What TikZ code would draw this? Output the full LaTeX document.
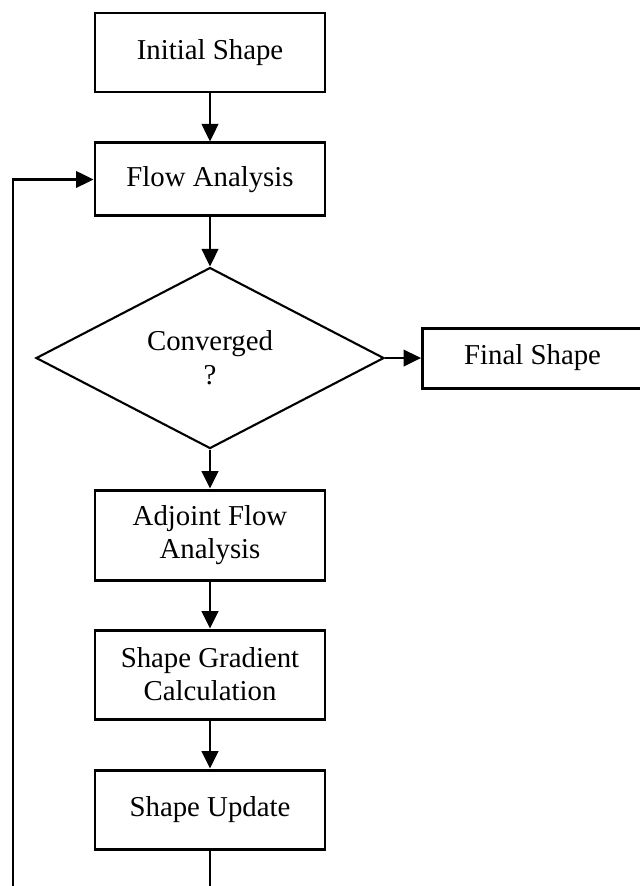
\documentclass[tikz,border=0pt]{standalone}
\usepackage{fontspec}
\setmainfont{Liberation Serif}
\usetikzlibrary{arrows.meta, positioning, shapes.geometric}

\begin{document}
\begin{tikzpicture}[
  box/.style={draw, line width=1.7pt, minimum width=4.6cm, align=center, font=\fontsize{16.4}{18.8}\selectfont},
  dec/.style={draw, diamond, line width=1.2pt, minimum width=6.96cm, minimum height=3.62cm, inner sep=0pt, align=center, font=\fontsize{16.4}{19.5}\selectfont},
  arr/.style={-{Triangle[length=3.5mm, width=3.3mm]}, line width=1.4pt}
]
  \useasboundingbox (0,0) rectangle (12.78,-17.72);
  \node[box, minimum height=1.58cm] (init) at (4.2,-1.05) {Initial Shape};
  \node[box, minimum height=1.46cm, below=0.96cm of init] (flow) {Flow Analysis};
  \node[dec, below=0.98cm of flow] (conv) {Converged\\?};
  \node[box, minimum width=4.4cm, minimum height=1.2cm, right=0.72cm of conv] (final) {Final Shape};
  \node[box, minimum height=1.8cm, below=0.78cm of conv] (adj) {Adjoint Flow\\Analysis};
  \node[box, minimum height=1.78cm, below=0.94cm of adj] (grad) {Shape Gradient\\Calculation};
  \node[box, minimum height=1.58cm, below=0.96cm of grad] (upd) {Shape Update};
  \coordinate (ubot) at (upd.south |- 0,-17.72);
  \coordinate (lbot) at (0.26,-17.72);
  \draw[arr] (init) -- (flow);
  \draw[arr] (flow) -- (conv);
  \draw[arr] (conv) -- (final);
  \draw[arr] (conv) -- (adj);
  \draw[arr] (adj) -- (grad);
  \draw[arr] (grad) -- (upd);
  \draw[line width=1.4pt] (upd) -- (ubot);
  \draw[arr] (lbot) |- (flow.west);
\end{tikzpicture}
\end{document}
